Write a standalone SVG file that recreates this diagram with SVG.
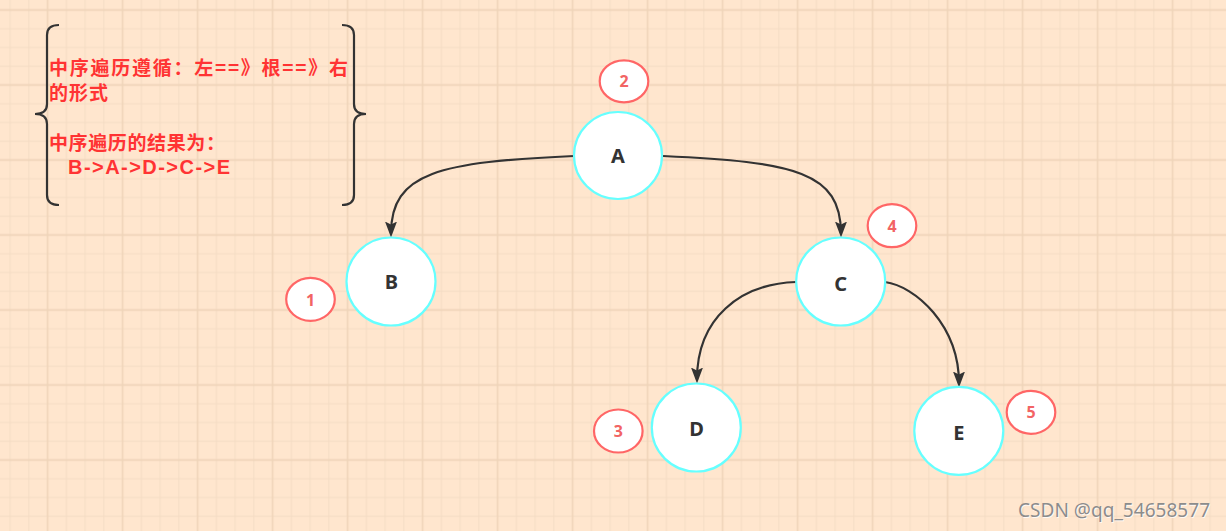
<svg xmlns="http://www.w3.org/2000/svg" width="1226" height="531" viewBox="0 0 1226 531">
<style>
.node ellipse{fill:#ffffff;stroke:#66ffff;stroke-width:2.2}
.node text{font-family:"Noto Sans","Noto Sans CJK SC",sans-serif;font-weight:700;font-size:20px;fill:#333333;text-anchor:middle}
.badge ellipse{fill:#ffffff;stroke:#ff6666;stroke-width:2.2}
.badge text{font-family:"Noto Sans","Noto Sans CJK SC",sans-serif;font-weight:700;font-size:16px;fill:#f26464;text-anchor:middle}
.edge{fill:none;stroke:#333333;stroke-width:2.2}
.note{font-family:"Noto Sans CJK SC","Noto Sans",sans-serif;font-weight:700;font-size:19px;fill:#ff3333}
.seq{font-family:"Liberation Sans","Noto Sans",sans-serif;font-weight:700;font-size:20px;fill:#ff3333}
</style>
<defs>
<pattern id="grid" patternUnits="userSpaceOnUse" x="38.3" y="0.625" width="75" height="75">
<path d="M28.125,0V75M46.875,0V75M65.625,0V75M0,28.125H75M0,46.875H75M0,65.625H75" stroke="#f4dcc4" stroke-width="1" fill="none"/>
<path d="M9.375,0V75M0,9.375H75" stroke="#efd4b9" stroke-width="1.6" fill="none"/>
</pattern>
<marker id="arr" markerUnits="userSpaceOnUse" markerWidth="16" markerHeight="12" viewBox="0 0 16 12" refX="12" refY="6" orient="auto">
<path d="M0,0 L16,6 L0,12 L3,6 Z" fill="#333333"/>
</marker>
</defs>
<rect width="1226" height="531" fill="#ffe6ce"/>
<rect width="1226" height="531" fill="url(#grid)"/>

<g id="note">
<path d="M59,25 Q47,25 47,35 L47,104 Q47,114 35,114 Q47,114 47,124 L47,195 Q47,205 59,205" fill="none" stroke="#333333" stroke-width="2.2"/>
<path d="M342,25 Q354,25 354,35 L354,104 Q354,114 366,114 Q354,114 354,124 L354,195 Q354,205 342,205" fill="none" stroke="#333333" stroke-width="2.2"/>
<text class="note" x="49" y="75" textLength="299" lengthAdjust="spacing">中序遍历遵循：左==》根==》右</text>
<text class="note" x="49" y="99.5" textLength="59" lengthAdjust="spacing">的形式</text>
<text class="note" x="49" y="149.5" textLength="176" lengthAdjust="spacing">中序遍历的结果为：</text>
<text class="seq" x="68" y="174" textLength="162" lengthAdjust="spacing">B-&gt;A-&gt;D-&gt;C-&gt;E</text>
</g>

<g id="connectors">
<path class="edge" d="M574,156 C440,162 391,172 391,233.5" marker-end="url(#arr)"/>
<path class="edge" d="M663,156 C795,162 841,172 841,233.5" marker-end="url(#arr)"/>
<path class="edge" d="M796,282 C740,284 697,318 697,379.5" marker-end="url(#arr)"/>
<path class="edge" d="M885,282 C915,286 959,325 959,383.5" marker-end="url(#arr)"/>
</g>

<g id="nodeA" class="node"><ellipse cx="618" cy="155.5" rx="44" ry="43.5"/><text x="618" y="163.3">A</text></g>
<g id="nodeB" class="node"><ellipse cx="391" cy="281.5" rx="44.5" ry="44"/><text x="391.5" y="289">B</text></g>
<g id="nodeC" class="node"><ellipse cx="840.7" cy="281.5" rx="44.5" ry="44"/><text x="840.7" y="290.5">C</text></g>
<g id="nodeD" class="node"><ellipse cx="696.3" cy="427.5" rx="44.5" ry="44"/><text x="696.5" y="435.5">D</text></g>
<g id="nodeE" class="node"><ellipse cx="958.8" cy="430.8" rx="44.5" ry="44"/><text x="958.8" y="440">E</text></g>

<g id="badge2" class="badge"><ellipse cx="624" cy="81.3" rx="24.3" ry="21"/><text x="624" y="87">2</text></g>
<g id="badge1" class="badge"><ellipse cx="310.5" cy="299.3" rx="24.3" ry="21.5"/><text x="310.5" y="305.7">1</text></g>
<g id="badge4" class="badge"><ellipse cx="892" cy="225.7" rx="24.3" ry="21.5"/><text x="892" y="231.5">4</text></g>
<g id="badge3" class="badge"><ellipse cx="618.3" cy="431" rx="24.3" ry="21.5"/><text x="618.3" y="436.8">3</text></g>
<g id="badge5" class="badge"><ellipse cx="1031" cy="412.3" rx="24.3" ry="21.5"/><text x="1031" y="418">5</text></g>

<g id="watermark" font-family="'Noto Sans','Liberation Sans',sans-serif" font-size="19">
<text x="1019" y="518" fill="#ffffff" opacity="0.8" textLength="192" lengthAdjust="spacing">CSDN @qq_54658577</text>
<text x="1018" y="517" fill="#8c8c8c" textLength="192" lengthAdjust="spacing">CSDN @qq_54658577</text>
</g>
</svg>
